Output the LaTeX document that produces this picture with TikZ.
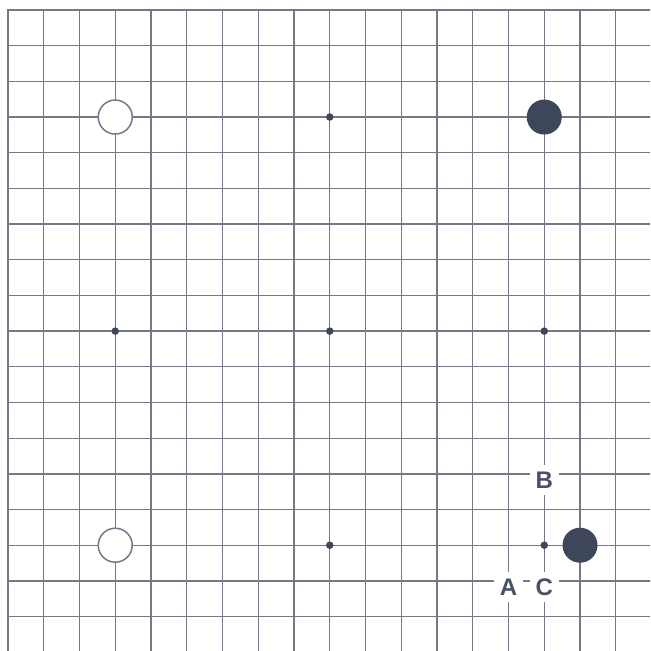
\documentclass[tikz,border=0pt]{standalone}
\usepackage{fontspec}
\setmainfont{Liberation Sans}
\definecolor{gridc}{RGB}{118,120,136}
\definecolor{stonec}{RGB}{62,70,90}
\definecolor{labc}{RGB}{74,80,102}
\begin{document}
\begin{tikzpicture}[x=35.75pt,y=-35.68pt,
  gridline/.style={draw=gridc,line width=1.3pt},
  border/.style={draw=gridc,line width=2.4pt},
  whitestone/.style={circle,minimum size=34pt,inner sep=0pt,fill=white,draw=gridc,line width=1.5pt},
  blackstone/.style={circle,minimum size=34pt,inner sep=0pt,fill=stonec,draw=stonec,line width=1pt},
  hoshi/.style={circle,minimum size=7.5pt,inner sep=0pt,fill=stonec},
  lab/.style={fill=white,inner sep=0pt,minimum width=29pt,minimum height=30pt,text=labc,font=\fontsize{24}{24}\selectfont\bfseries}]
\useasboundingbox[fill=white] (-0.2238,-0.2803) rectangle (17.958,17.965);
\begin{scope}
\clip (-0.2238,-0.2803) rectangle (17.958,17.965);
\foreach \i in {1,...,18} {
  \draw[gridline] (\i,0) -- (\i,18.5);
  \draw[gridline] (0,\i) -- (18.5,\i);
}
\draw[border] (0,18.5) -- (0,0) -- (18.5,0);
\end{scope}
% star points
\node[hoshi] (h1) at (9,3) {};
\node[hoshi] (h2) at (3,9) {};
\node[hoshi] (h3) at (9,9) {};
\node[hoshi] (h4) at (15,9) {};
\node[hoshi] (h5) at (9,15) {};
\node[hoshi] (h6) at (15,15) {};
% stones
\node[whitestone] (w1) at (3,3) {};
\node[whitestone] (w2) at (3,15) {};
\node[blackstone] (b1) at (15,3) {};
\node[blackstone] (b2) at (16,15) {};
% labels
\node[lab] (lB) at (15,13.17) {B};
\node[lab] (lA) at (14,16.17) {A};
\node[lab] (lC) at (15,16.17) {C};
\end{tikzpicture}
\end{document}
